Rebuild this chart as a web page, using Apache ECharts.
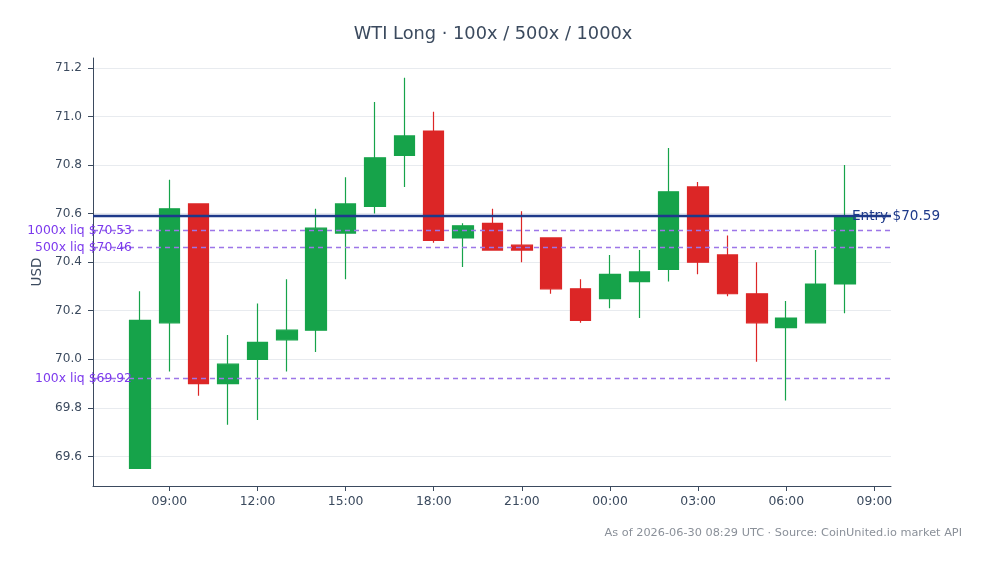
<!DOCTYPE html>
<html>
<head>
<meta charset="utf-8">
<script src="https://cdn.jsdelivr.net/npm/echarts@6/dist/echarts.min.js"></script>
<style>
  html, body { margin: 0; padding: 0; background: #ffffff; }
  #chart { width: 986px; height: 564px; }
</style>
</head>
<body>
<div id="chart"></div>
<script>
// ---- Data ----
const times = [
  '2026-06-29T08:00:00Z', '2026-06-29T09:00:00Z', '2026-06-29T10:00:00Z', '2026-06-29T11:00:00Z',
  '2026-06-29T12:00:00Z', '2026-06-29T13:00:00Z', '2026-06-29T14:00:00Z', '2026-06-29T15:00:00Z',
  '2026-06-29T16:00:00Z', '2026-06-29T17:00:00Z', '2026-06-29T18:00:00Z', '2026-06-29T19:00:00Z',
  '2026-06-29T20:00:00Z', '2026-06-29T21:00:00Z', '2026-06-29T22:00:00Z', '2026-06-29T23:00:00Z',
  '2026-06-30T00:00:00Z', '2026-06-30T01:00:00Z', '2026-06-30T02:00:00Z', '2026-06-30T03:00:00Z',
  '2026-06-30T04:00:00Z', '2026-06-30T05:00:00Z', '2026-06-30T06:00:00Z', '2026-06-30T07:00:00Z',
  '2026-06-30T08:00:00Z'
];
const opens  = [69.55, 70.15, 70.64, 69.90, 70.00, 70.08, 70.12, 70.52, 70.63, 70.84, 70.94, 70.50, 70.56,
                70.47, 70.50, 70.29, 70.25, 70.32, 70.37, 70.71, 70.43, 70.27, 70.13, 70.15, 70.31];
const closes = [70.16, 70.62, 69.90, 69.98, 70.07, 70.12, 70.54, 70.64, 70.83, 70.92, 70.49, 70.55, 70.45,
                70.45, 70.29, 70.16, 70.35, 70.36, 70.69, 70.40, 70.27, 70.15, 70.17, 70.31, 70.59];
const lows   = [69.55, 69.95, 69.85, 69.73, 69.75, 69.95, 70.03, 70.33, 70.60, 70.71, 70.48, 70.38, 70.45,
                70.40, 70.27, 70.15, 70.21, 70.17, 70.32, 70.35, 70.26, 69.99, 69.83, 70.15, 70.19];
const highs  = [70.28, 70.74, 70.64, 70.10, 70.23, 70.33, 70.62, 70.75, 71.06, 71.16, 71.02, 70.56, 70.62,
                70.61, 70.50, 70.33, 70.43, 70.45, 70.87, 70.73, 70.51, 70.40, 70.24, 70.45, 70.80];

const entryPrice = 70.59;
const entryLabel = 'Entry $70.59';
const liqLevels = [70.53, 70.46, 69.92];
const liqLabels = ['1000x liq $70.53', '500x liq $70.46', '100x liq $69.92'];

const titleText = 'WTI Long \u00b7 100x / 500x / 1000x';
const footerText = 'As of 2026-06-30 08:29 UTC \u00b7 Source: CoinUnited.io market API';
const yAxisName = 'USD';
const xMin = '2026-06-29T06:24:00Z';
const xMax = '2026-06-30T09:34:00Z';
const yMin = 69.478;
const yMax = 71.241;

// ---- Build ----
const candleData = times.map((t, i) => [Date.parse(t), opens[i], closes[i], lows[i], highs[i]]);
const FONT = 'DejaVu Sans';
const AXIS_COLOR = '#3b4a5e';
const TEXT_COLOR = '#3b4a5e';
const LIQ_LINE = '#9d76e8';
const LIQ_TEXT = '#7c3aed';

function pad(n) { return (n < 10 ? '0' : '') + n; }

const markLines = [
  {
    yAxis: entryPrice,
    lineStyle: { color: '#1e3a8a', width: 2.4, type: 'solid', opacity: 1 },
    label: {
      show: true, position: 'end', distance: -39, formatter: entryLabel,
      color: '#1e3a8a', fontFamily: FONT, fontSize: 13.6
    }
  }
].concat(liqLevels.map((v, i) => ({
  yAxis: v,
  lineStyle: { color: LIQ_LINE, width: 1.4, type: [5, 4], opacity: 1 },
  label: {
    show: true, position: 'start', distance: -39, formatter: liqLabels[i],
    color: LIQ_TEXT, fontFamily: FONT, fontSize: 12.4
  }
})));

const chart = echarts.init(document.getElementById('chart'), null, { renderer: 'canvas' });
chart.setOption({
  animation: false,
  backgroundColor: '#ffffff',
  textStyle: { fontFamily: FONT },
  title: {
    text: titleText,
    left: 'center',
    top: 20,
    textStyle: { fontFamily: FONT, fontSize: 17.8, fontWeight: 'normal', color: '#3b4a5e' }
  },
  graphic: [{
    type: 'text',
    right: 24,
    top: 528,
    style: { text: footerText, fill: '#8a9099', font: '11.3px "DejaVu Sans"' }
  }],
  grid: { left: 93, right: 95, top: 58, bottom: 78, containLabel: false },
  xAxis: {
    type: 'value',
    min: Date.parse(xMin),
    max: Date.parse(xMax),
    minInterval: 3 * 3600 * 1000,
    maxInterval: 3 * 3600 * 1000,
    splitNumber: 9,
    axisLine: { show: true, lineStyle: { color: AXIS_COLOR, width: 1 } },
    axisTick: { show: true, length: 5, lineStyle: { color: AXIS_COLOR } },
    axisLabel: {
      color: TEXT_COLOR, fontFamily: FONT, fontSize: 12.4, margin: 10,
      showMinLabel: false, showMaxLabel: false,
      formatter: function (v) {
        const d = new Date(v);
        return pad(d.getUTCHours()) + ':' + pad(d.getUTCMinutes());
      }
    },
    splitLine: { show: false }
  },
  yAxis: {
    type: 'value',
    min: yMin,
    max: yMax,
    minInterval: 0.2,
    maxInterval: 0.2,
    splitNumber: 9,
    scale: true,
    name: yAxisName,
    nameLocation: 'middle',
    nameGap: 48,
    nameTextStyle: { color: TEXT_COLOR, fontFamily: FONT, fontSize: 13.5 },
    axisLine: { show: true, lineStyle: { color: AXIS_COLOR, width: 1 } },
    axisTick: { show: true, length: 5, lineStyle: { color: AXIS_COLOR } },
    axisLabel: {
      color: TEXT_COLOR, fontFamily: FONT, fontSize: 12.1, margin: 11,
      showMinLabel: false, showMaxLabel: false,
      formatter: function (v) { return v.toFixed(1); }
    },
    splitLine: { show: true, showMinLine: false, showMaxLine: false, lineStyle: { color: '#e8ebef', width: 1 } }
  },
  series: [{
    type: 'candlestick',
    data: candleData,
    encode: { x: 0, y: [1, 2, 3, 4] },
    barWidth: 21,
    itemStyle: {
      color: '#16a34a', color0: '#dc2626',
      borderColor: '#16a34a', borderColor0: '#dc2626',
      borderWidth: 1.2
    },
    markLine: {
      silent: true,
      symbol: ['none', 'none'],
      animation: false,
      data: markLines
    }
  }]
});
</script>
</body>
</html>
